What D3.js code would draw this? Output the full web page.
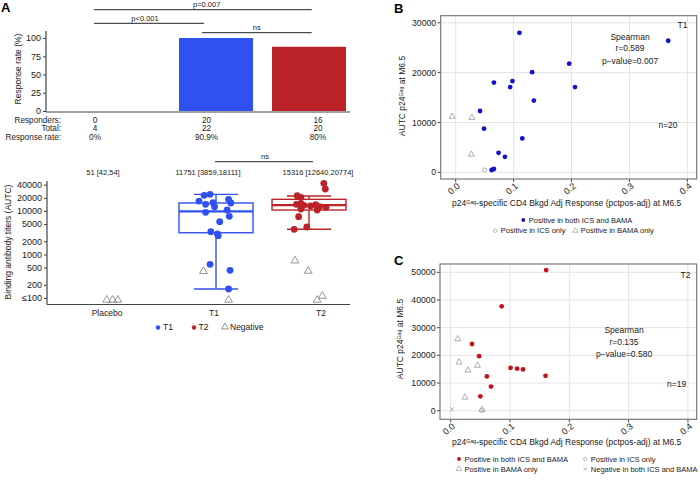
<!DOCTYPE html>
<html>
<head>
<meta charset="utf-8">
<script src="https://cdn.jsdelivr.net/npm/d3@7"></script>
<style>
  body { margin: 0; background: #fff; }
  svg { font-family: "Liberation Sans", Arial, sans-serif; }
</style>
</head>
<body>
<svg id="chart" width="700" height="480"></svg>
<script>
// ---- panel A data ----
const categories = ["Placebo", "T1", "T2"];
const responders = [0, 20, 16];
const totals = [4, 22, 20];
const rateLabels = ["0%", "90.9%", "80%"];
const barHeights = [0, 100, 88];
const summaryLabels = ["51 [42,54]", "11751 [3859,18111]", "15316 [12640,20774]"];

const boxGroups = ["T1", "T2"];
const boxMin = [161, 3780];
const boxQ1 = [3150, 10490];
const boxMed = [9800, 13650];
const boxQ3 = [15200, 18460];
const boxMax = [24000, 21980];

const t1Values = [22800, 24050, 16870, 14180, 15420, 12480, 18460, 15180, 9290, 10490, 7520, 5650, 3330, 2950, 2700, 594, 432, 161];
const t1Jitter = [-0.16, -0.08, -0.23, -0.14, -0.04, -0.02, 0.17, 0.2, -0.14, 0.15, 0.18, 0.05, -0.07, 0.02, 0.03, -0.08, 0.19, 0.17];
const t2Values = [43000, 31840, 22340, 20520, 14180, 14940, 13450, 12960, 13870, 12480, 12100, 10490, 11070, 7360, 3780, 4270];
const t2Jitter = [0.2, 0.22, -0.16, -0.11, -0.17, -0.11, -0.07, 0.02, 0.09, 0.14, 0.23, 0.11, -0.11, -0.14, -0.2, -0.03];
const negGroup = ["Placebo", "Placebo", "Placebo", "T1", "T1", "T2", "T2", "T2", "T2"];
const negValues = [90, 90, 90, 410, 90, 718, 417, 111, 90];
const negJitter = [-0.22, -0.14, -0.07, -0.17, 0.17, -0.19, -0.01, 0.18, 0.11];
const logTicks = [100, 200, 500, 1000, 2000, 5000, 10000, 20000, 40000];

// ---- panel B data (T1) ----
const bBothX = [0.110, 0.196, 0.132, 0.066, 0.098, 0.094, 0.206, 0.135, 0.042, 0.049, 0.115, 0.074, 0.085, 0.062, 0.066, 0.367];
const bBothY = [28000, 21800, 20100, 18000, 18300, 17100, 17100, 14400, 12300, 8750, 6800, 3900, 3100, 460, 660, 26400];
const bBamaX = [-0.006, 0.028, 0.027];
const bBamaY = [11200, 10950, 3600];
const bIcsX = [0.050];
const bIcsY = [460];

// ---- panel C data (T2) ----
const cBothX = [0.161, 0.086, 0.036, 0.048, 0.101, 0.112, 0.122, 0.160, 0.061, 0.068, 0.050];
const cBothY = [50800, 37700, 24100, 19700, 15500, 15200, 14900, 12600, 12400, 8700, 5200];
const cBamaX = [0.012, 0.014, 0.045, 0.029, 0.024, 0.053];
const cBamaY = [25900, 17500, 16300, 14600, 4800, 400];
const cIcsX = [0.052];
const cIcsY = [100];
const cNegX = [0.002];
const cNegY = [500];

const blueA = "#3050f2", redA = "#bb2329";
const blueB = "#1212c8", redC = "#c8101e";
const grey = "#a6a6a6", ink = "#1a1a1a";

const svg = d3.select("#chart");

// panel letters
svg.append("text").attr("x", 1).attr("y", 11.5).attr("font-size", 13).attr("font-weight", "bold").text("A");
svg.append("text").attr("x", 394).attr("y", 13).attr("font-size", 13).attr("font-weight", "bold").text("B");
svg.append("text").attr("x", 394).attr("y", 265).attr("font-size", 13).attr("font-weight", "bold").text("C");

// ================= Panel A: response rate bars =================
const barW = 74;
const xA = d3.scaleLinear().domain([0, 2]).range([123, 309]);
const xTable = d3.scaleLinear().domain([0, 2]).range([95, 318]);
const xCatLabel = d3.scaleLinear().domain([0, 2]).range([107, 321]);
const yBar = d3.scaleLinear().domain([0, 100]).range([111, 38]);

const gBar = svg.append("g");
gBar.selectAll("rect").data(categories).join("rect")
  .attr("x", (d, i) => xA(i) - barW / 2)
  .attr("y", (d, i) => yBar(barHeights[i]))
  .attr("width", barW)
  .attr("height", (d, i) => yBar(0) - yBar(barHeights[i]))
  .attr("fill", (d, i) => i === 1 ? blueA : redA);

const barAxis = gBar.append("g").attr("transform", "translate(46,0)")
  .call(d3.axisLeft(yBar).tickValues([0, 25, 50, 75, 100]).tickSize(3).tickPadding(2));
barAxis.select(".domain").remove();
barAxis.selectAll("text").attr("font-size", 9).attr("fill", ink).attr("font-family", "Liberation Sans, Arial, sans-serif");
barAxis.selectAll("line").attr("stroke", "#444");
gBar.append("line").attr("x1", 46).attr("x2", 46).attr("y1", 31).attr("y2", 112).attr("stroke", "#444").attr("stroke-width", 1.2);
gBar.append("line").attr("x1", 46).attr("x2", 350).attr("y1", 112).attr("y2", 112).attr("stroke", "#444").attr("stroke-width", 1.2);
gBar.append("text").attr("transform", "translate(21,69) rotate(-90)").attr("text-anchor", "middle")
  .attr("font-size", 8.5).attr("fill", ink).text("Response rate (%)");

// significance brackets (top)
const sigTop = [
  { from: 0, to: 2, y: 9.7, label: "p=0.007", lx: 206.7 },
  { from: 0, to: 1, y: 23.3, label: "p<0.001", lx: 145 },
  { from: 1, to: 2, y: 32.7, label: "ns", lx: 256.7 }
];
const sigX = d3.scaleLinear().domain([0, 2]).range([94, 311.7]);
sigTop.forEach(s => {
  gBar.append("line").attr("x1", s.from === 1 ? 202 : sigX(s.from)).attr("x2", s.to === 1 ? 204 : sigX(s.to))
    .attr("y1", s.y).attr("y2", s.y).attr("stroke", "#222").attr("stroke-width", 1);
  gBar.append("text").attr("x", s.lx).attr("y", s.y - 2.3).attr("text-anchor", "middle")
    .attr("font-size", 7.5).attr("fill", ink).text(s.label);
});

// table under bars
const rowLabels = ["Responders:", "Total:", "Response rate:"];
const rowValues = [responders, totals, rateLabels];
const rowY = [119.8, 128.2, 137];
rowLabels.forEach((lab, r) => {
  gBar.append("text").attr("x", 61).attr("y", rowY[r]).attr("dy", "0.35em").attr("text-anchor", "end")
    .attr("font-size", 8.2).attr("fill", ink).text(lab);
  gBar.selectAll(null).data(rowValues[r]).join("text")
    .attr("x", (d, i) => xTable(i)).attr("y", rowY[r]).attr("dy", "0.35em").attr("text-anchor", "middle")
    .attr("font-size", 8.2).attr("fill", ink).text(d => d);
});

// ================= Panel A: binding antibody box plot =================
const yLog = d3.scaleLog().domain([100, 40000]).range([298, 184.7]);
const gBox = svg.append("g");

const logAxis = gBox.append("g").attr("transform", "translate(47,0)")
  .call(d3.axisLeft(yLog).tickValues(logTicks).tickSize(3).tickPadding(2)
    .tickFormat(d => d === 100 ? "\u2264100" : d3.format("d")(d)));
logAxis.select(".domain").remove();
logAxis.selectAll("text").attr("font-size", 9).attr("fill", ink).attr("font-family", "Liberation Sans, Arial, sans-serif");
logAxis.selectAll("line").attr("stroke", "#444");
gBox.append("line").attr("x1", 47).attr("x2", 47).attr("y1", 181).attr("y2", 304.5).attr("stroke", "#444").attr("stroke-width", 1.2);
gBox.append("line").attr("x1", 47).attr("x2", 350).attr("y1", 304.5).attr("y2", 304.5).attr("stroke", "#444").attr("stroke-width", 1.2);
gBox.append("text").attr("transform", "translate(10.5,242) rotate(-90)").attr("text-anchor", "middle")
  .attr("font-size", 8.5).attr("fill", ink).text("Binding antibody titers (AUTC)");

gBox.selectAll(".cat").data(categories).join("text")
  .attr("x", (d, i) => xCatLabel(i)).attr("y", 313.5).attr("dy", "0.35em").attr("text-anchor", "middle")
  .attr("font-size", 8.5).attr("fill", ink).text(d => d);

gBox.selectAll(".summ").data(summaryLabels).join("text")
  .attr("x", (d, i) => [103, 208, 318][i]).attr("y", 172.7).attr("dy", "0.35em").attr("text-anchor", "middle")
  .attr("font-size", 7.5).attr("fill", ink).text(d => d);

gBox.append("line").attr("x1", 215).attr("x2", 313).attr("y1", 161.7).attr("y2", 161.7).attr("stroke", "#222");
gBox.append("text").attr("x", 265).attr("y", 159.3).attr("text-anchor", "middle").attr("font-size", 7.5).attr("fill", ink).text("ns");

// boxes
const capW = 44;
boxGroups.forEach((grp, k) => {
  const cx = xA(categories.indexOf(grp));
  const col = k === 0 ? blueA : redA;
  const b = gBox.append("g").attr("stroke", col).attr("fill", "none").attr("stroke-width", 1.4);
  b.append("line").attr("x1", cx).attr("x2", cx).attr("y1", yLog(boxQ3[k])).attr("y2", yLog(boxMax[k]));
  b.append("line").attr("x1", cx).attr("x2", cx).attr("y1", yLog(boxQ1[k])).attr("y2", yLog(boxMin[k]));
  b.append("line").attr("x1", cx - capW / 2).attr("x2", cx + capW / 2).attr("y1", yLog(boxMax[k])).attr("y2", yLog(boxMax[k]));
  b.append("line").attr("x1", cx - capW / 2).attr("x2", cx + capW / 2).attr("y1", yLog(boxMin[k])).attr("y2", yLog(boxMin[k]));
  b.append("rect").attr("x", cx - barW / 2).attr("width", barW)
    .attr("y", yLog(boxQ3[k])).attr("height", yLog(boxQ1[k]) - yLog(boxQ3[k]));
  b.append("line").attr("x1", cx - barW / 2).attr("x2", cx + barW / 2)
    .attr("y1", yLog(boxMed[k])).attr("y2", yLog(boxMed[k])).attr("stroke-width", 2.2);
});

const triSmall = d3.symbol().type(d3.symbolTriangle).size(26);
// negatives (triangles)
gBox.selectAll(".neg").data(negValues).join("path")
  .attr("d", triSmall)
  .attr("transform", (d, i) => `translate(${xA(categories.indexOf(negGroup[i])) + negJitter[i] * barW},${yLog(d)})`)
  .attr("fill", "none").attr("stroke", "#8a8a8a").attr("stroke-width", 0.9);

// responders
gBox.selectAll(".t1").data(t1Values).join("circle")
  .attr("cx", (d, i) => xA(1) + t1Jitter[i] * barW).attr("cy", d => yLog(d))
  .attr("r", 3.4).attr("fill", blueA);
gBox.selectAll(".t2").data(t2Values).join("circle")
  .attr("cx", (d, i) => xA(2) + t2Jitter[i] * barW).attr("cy", d => yLog(d))
  .attr("r", 3.4).attr("fill", redA);

// legend A
const legA = gBox.append("g").attr("font-size", 8.5).attr("fill", ink);
legA.append("circle").attr("cx", 158).attr("cy", 327.5).attr("r", 2.2).attr("fill", blueA);
legA.append("text").attr("x", 163).attr("y", 327.5).attr("dy", "0.35em").text("T1");
legA.append("circle").attr("cx", 194).attr("cy", 327.5).attr("r", 2.2).attr("fill", redA);
legA.append("text").attr("x", 198.5).attr("y", 327.5).attr("dy", "0.35em").text("T2");
legA.append("path").attr("d", d3.symbol().type(d3.symbolTriangle).size(20))
  .attr("transform", "translate(225,327)").attr("fill", "none").attr("stroke", "#777").attr("stroke-width", 0.8);
legA.append("text").attr("x", 230).attr("y", 327.5).attr("dy", "0.35em").text("Negative");

// ================= Panels B and C: scatter plots =================
const triTiny = d3.symbol().type(d3.symbolTriangle).size(16);
function crossPath(s) { return `M${-s},${-s}L${s},${s}M${-s},${s}L${s},${-s}`; }

function titleWithSup(sel, before, sup, after) {
  sel.append("tspan").text(before);
  sel.append("tspan").attr("font-size", "0.62em").attr("baseline-shift", "35%").text(sup);
  sel.append("tspan").text(after);
}

function scatterPanel(cfg) {
  const g = svg.append("g");
  const x = d3.scaleLinear().domain(cfg.xDomain).range([cfg.left, cfg.right]);
  const y = d3.scaleLinear().domain(cfg.yDomain).range([cfg.bottom, cfg.top]);
  const xTicks = [0, 0.1, 0.2, 0.3, 0.4];

  g.selectAll(".vg").data(xTicks).join("line")
    .attr("x1", d => x(d)).attr("x2", d => x(d)).attr("y1", cfg.top).attr("y2", cfg.bottom)
    .attr("stroke", "#e4e4e4").attr("stroke-width", 1);
  g.selectAll(".hg").data(cfg.yTicks).join("line")
    .attr("x1", cfg.left).attr("x2", cfg.right).attr("y1", d => y(d)).attr("y2", d => y(d))
    .attr("stroke", "#e4e4e4").attr("stroke-width", 1);

  // y ticks
  g.selectAll(".yt").data(cfg.yTicks).join("line")
    .attr("x1", cfg.left - 3).attr("x2", cfg.left).attr("y1", d => y(d)).attr("y2", d => y(d)).attr("stroke", "#444");
  g.selectAll(".yl").data(cfg.yTicks).join("text")
    .attr("x", cfg.left - 4.5).attr("y", d => y(d)).attr("dy", "0.35em").attr("text-anchor", "end")
    .attr("font-size", 8.7).attr("fill", "#222").text(d => d);
  // x ticks
  g.selectAll(".xt").data(xTicks).join("line")
    .attr("x1", d => x(d)).attr("x2", d => x(d)).attr("y1", cfg.bottom).attr("y2", cfg.bottom + 3).attr("stroke", "#444");
  g.selectAll(".xl").data(xTicks).join("text")
    .attr("transform", d => `translate(${x(d) + 5},${cfg.bottom + 8}) rotate(-40)`)
    .attr("text-anchor", "end").attr("font-size", 9).attr("fill", "#222").text(d => d.toFixed(1));

  g.append("rect").attr("x", cfg.left).attr("y", cfg.top).attr("width", cfg.right - cfg.left)
    .attr("height", cfg.bottom - cfg.top).attr("fill", "none").attr("stroke", "#6e6e6e").attr("stroke-width", 1.1);

  // axis titles
  const yt = g.append("text").attr("transform", `translate(${cfg.yTitleX},${cfg.yTitleY}) rotate(-90)`)
    .attr("text-anchor", "middle").attr("font-size", 8.5).attr("fill", ink);
  titleWithSup(yt, "AUTC p24", "Gag", " at M6.5");
  const xt = g.append("text").attr("x", 566.7).attr("y", cfg.xTitleY)
    .attr("text-anchor", "middle").attr("font-size", 8.5).attr("fill", ink);
  titleWithSup(xt, "p24", "Gag", "-specific CD4 Bkgd Adj Response (pctpos-adj) at M6.5");

  // marks
  const pts = g.append("g");
  (cfg.negX || []).forEach((v, i) => {
    pts.append("path").attr("d", crossPath(2)).attr("transform", `translate(${x(v)},${y(cfg.negY[i])})`)
      .attr("stroke", grey).attr("stroke-width", 0.9).attr("fill", "none");
  });
  pts.selectAll(".ics").data(cfg.icsX).join("circle")
    .attr("cx", d => x(d)).attr("cy", (d, i) => y(cfg.icsY[i])).attr("r", 2)
    .attr("fill", "none").attr("stroke", grey).attr("stroke-width", 0.9);
  pts.selectAll(".bama").data(cfg.bamaX).join("path")
    .attr("d", triTiny).attr("transform", (d, i) => `translate(${x(d)},${y(cfg.bamaY[i])})`)
    .attr("fill", "none").attr("stroke", grey).attr("stroke-width", 0.9);
  pts.selectAll(".both").data(cfg.bothX).join("circle")
    .attr("cx", d => x(d)).attr("cy", (d, i) => y(cfg.bothY[i])).attr("r", 2.4).attr("fill", cfg.color);

  // annotations
  const ann = g.append("g").attr("font-size", 8.5).attr("fill", ink);
  ann.append("text").attr("x", cfg.tagX).attr("y", cfg.tagY).attr("dy", "0.35em").attr("text-anchor", "end").text(cfg.tag);
  cfg.stats.forEach((s, i) => {
    ann.append("text").attr("x", cfg.statX).attr("y", cfg.statY[i]).attr("dy", "0.35em")
      .attr("text-anchor", "middle").text(s);
  });
  ann.append("text").attr("x", cfg.nX).attr("y", cfg.nY).attr("dy", "0.35em").attr("text-anchor", "middle").text(cfg.nLabel);
  return g;
}

const gB = scatterPanel({
  left: 440.7, right: 696.7, top: 15.7, bottom: 179,
  xDomain: [-0.0259, 0.4162], yDomain: [-1345, 31430], yTicks: [0, 10000, 20000, 30000],
  yTitleX: 405, yTitleY: 96, xTitleY: 206,
  bothX: bBothX, bothY: bBothY, bamaX: bBamaX, bamaY: bBamaY, icsX: bIcsX, icsY: bIcsY,
  color: blueB, tag: "T1", tagX: 687.5, tagY: 25,
  stats: ["Spearman", "r=0.589", "p\u2212value=0.007"], statX: 630, statY: [36.7, 48.5, 60.7],
  nLabel: "n=20", nX: 668, nY: 125
});

const gC = scatterPanel({
  left: 440, right: 696.7, top: 264, bottom: 419.3,
  xDomain: [-0.018, 0.4148], yDomain: [-3107, 53000], yTicks: [0, 10000, 20000, 30000, 40000, 50000],
  yTitleX: 403, yTitleY: 339, xTitleY: 444.5,
  bothX: cBothX, bothY: cBothY, bamaX: cBamaX, bamaY: cBamaY, icsX: cIcsX, icsY: cIcsY,
  negX: cNegX, negY: cNegY,
  color: redC, tag: "T2", tagX: 690.5, tagY: 275,
  stats: ["Spearman", "r=0.135", "p\u2212value=0.580"], statX: 624, statY: [330, 341.7, 354],
  nLabel: "n=19", nX: 676.7, nY: 384.3
});

// legends for B and C
function legendItem(g, kind, color, x, y, label) {
  if (kind === "dot") g.append("circle").attr("cx", x).attr("cy", y).attr("r", 1.9).attr("fill", color);
  if (kind === "circle") g.append("circle").attr("cx", x).attr("cy", y).attr("r", 1.7).attr("fill", "none").attr("stroke", grey).attr("stroke-width", 0.8);
  if (kind === "tri") g.append("path").attr("d", d3.symbol().type(d3.symbolTriangle).size(12)).attr("transform", `translate(${x},${y})`).attr("fill", "none").attr("stroke", grey).attr("stroke-width", 0.8);
  if (kind === "x") g.append("path").attr("d", crossPath(1.7)).attr("transform", `translate(${x},${y})`).attr("stroke", grey).attr("stroke-width", 0.8);
  g.append("text").attr("x", x + 5.5).attr("y", y).attr("dy", "0.35em").attr("font-size", 7.5).attr("fill", ink).text(label);
}
const legB = svg.append("g");
legendItem(legB, "dot", blueB, 523.3, 220, "Positive in both ICS and BAMA");
legendItem(legB, "circle", null, 495.3, 230.7, "Positive in ICS only");
legendItem(legB, "tri", null, 575.3, 230.7, "Positive in BAMA only");

const legC = svg.append("g");
legendItem(legC, "dot", redC, 459, 459, "Positive in both ICS and BAMA");
legendItem(legC, "circle", null, 585.3, 459, "Positive in ICS only");
legendItem(legC, "tri", null, 459, 469, "Positive in BAMA only");
legendItem(legC, "x", null, 585.3, 469, "Negative in both ICS and BAMA");
</script>
</body>
</html>
